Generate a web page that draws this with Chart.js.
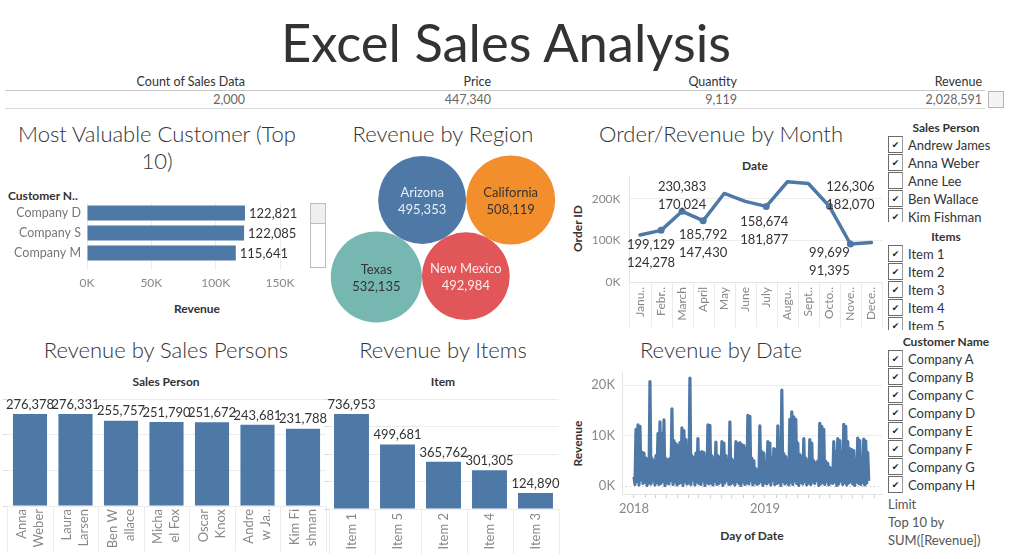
<!DOCTYPE html>
<html><head><meta charset="utf-8">
<script src="https://cdn.jsdelivr.net/npm/chart.js@4.4.1/dist/chart.umd.min.js"></script>
<style>
html,body{margin:0;padding:0;background:#fff}
body{width:1012px;height:559px;position:relative;overflow:hidden;font-family:Lato,"Open Sans",sans-serif;color:#333}
.t{position:absolute;white-space:nowrap}
canvas{position:absolute}
.box{position:absolute;box-sizing:border-box}
</style>
</head><body>
<script>
// ---------------- DATA ----------------
const dashboardTitle = 'Excel Sales Analysis';
const kpiHeaders = ['Count of Sales Data','Price','Quantity','Revenue'];
const kpiValues = ['2,000','447,340','9,119','2,028,591'];

const customers = ['Company D','Company S','Company M'];
const customerRevenue = [122821, 122085, 115641];

const regions = ['Arizona','California','New Mexico','Texas'];
const regionRevenue = [495353, 508119, 492984, 532135];

const monthTickLabels = ['Janu..','Febr..','March','April','May','June','July','Augu..','Sept..','Octo..','Nove..','Dece..'];
const monthOrderId = [113000, 124278, 170024, 147430, 213000, 194000, 181877, 241000, 237000, 182070, 91395, 95000];
const monthRevenue = [null, 199129, 230383, 185792, null, null, 158674, null, null, 126306, 99699, null];

const salesPersonLabels = [['Anna','Weber'],['Laura','Larsen'],['Ben W','allace'],['Micha','el Fox'],['Oscar','Knox'],['Andre','w Ja..'],['Kim Fi','shman']];
const salesRevenue = [276378, 276331, 255757, 251790, 251672, 243681, 231788];

const items = ['Item 1','Item 5','Item 2','Item 4','Item 3'];
const itemRevenue = [736953, 499681, 365762, 301305, 124890];

// Revenue by Date: peaks and troughs read across the plot (Jan 2018 .. Oct 2019)
const dateStart = '2018-01-01';
const dateEnd = '2019-10-17';
const datePeaks = [
 1800,11200,12100,11800,6700,6500,5500,5200,20700,5500,
 5000,6000,10400,12700,10400,13100,5400,5200,5400,15300,
 9000,8400,8000,8600,11500,11000,9200,6000,21400,6000,
 5600,6500,9400,6600,6800,6600,5900,12100,12000,6000,
 5500,8700,6000,5700,8800,8500,6000,5200,12700,5300,
 5000,8800,8400,8600,8200,8000,7500,14000,13800,5500,
 5000,3400,3200,11900,6800,6500,3300,8800,8500,5500,
 7400,7200,11900,6800,19000,6400,5800,5200,13200,14700,
 13700,13200,8500,6200,5800,9400,5500,5000,9200,8500,
 5000,4600,5000,12400,11800,11200,4900,4500,3700,3500,
 8800,6800,9400,9000,6500,12200,11800,8800,7400,7200,
 7000,5400,9500,9000,5400,9300,8900,6600];
const dateLows = [
 300,900,200,1200,500,800,100,600,400,1000,
 200,700,300,500,900,100,600,400,1100,300,
 800,200,500,700,100,900,400,600,300,1200,
 200,800,500,300,1000,100,700,400,600,200,
 900,300,500,800,100,600,1100,300,400,700,
 200,900,500,100,800,300,600,400,1000,200,
 700,300,500,900,100,600,400,800,200,1100,
 300,500,700,100,900,400,600,200,800,300,
 1000,500,100,700,400,900,200,600,300,800,
 500,1100,100,400,700,300,900,200,600,500,
 800,100,400,1000,300,700,200,600,900,400,
 100,800,500,300,700,200,600,1000];
const dateYearLabels = ['2018','2019'];

const filterSalesPersons = ['Andrew James','Anna Weber','Anne Lee','Ben Wallace','Kim Fishman'];
const filterSalesChecked = [true,true,false,true,true];
const filterItems = ['Item 1','Item 2','Item 3','Item 4','Item 5'];
const filterItemsChecked = [true,true,true,true,true];
const filterCustomers = ['Company A','Company B','Company C','Company D','Company E','Company F','Company G','Company H'];
const filterCustomersChecked = [true,true,true,true,true,true,true,true];
const limitLines = ['Limit','Top 10 by','SUM([Revenue])'];

// ---------------- STYLE ----------------
const BLUE = '#4e79a7';
const FONT = 'Lato, "Open Sans", sans-serif';
const bubbleColors = ['#4e79a7','#f28e2b','#e15759','#76b7b2'];
const bubbleTextColors = ['#e9eef5','#333333','#fcecec','#333333'];
const BUBBLE_SCALE = 0.0625;
const monthLabelPlacement = [null,{dx:-10,dy:14},{dx:0,dy:-24.5},{dx:0,dy:14.4},null,null,{dx:-2,dy:15.5},null,null,{dx:21,dy:-19.5},{dx:-21,dy:9},null];

Chart.defaults.font.family = FONT;
Chart.defaults.animation = false;
Chart.defaults.plugins.legend.display = false;
Chart.defaults.plugins.tooltip.enabled = false;
Chart.defaults.color = '#888';

const fmt = v => v.toLocaleString('en-US');
// fix an axis' thickness and drop the automatic label padding
const fitW = w => s => { s.width = w; s.paddingTop = s.paddingBottom = s.paddingLeft = s.paddingRight = 0; };
const fitH = h => s => { s.height = h; s.paddingTop = s.paddingBottom = s.paddingLeft = s.paddingRight = 0; };

// ---------------- HTML helpers ----------------
function txt(s, x, y, o = {}) {
  const d = document.createElement('div');
  d.className = 't';
  d.textContent = s;
  const size = o.size || 12, lh = o.lh || Math.round(size * 1.4);
  const align = o.align || 'center';
  d.style.fontSize = size + 'px';
  d.style.lineHeight = lh + 'px';
  d.style.top = (y - lh / 2) + 'px';
  d.style.color = o.color || '#333';
  d.style.fontWeight = o.weight || 400;
  if (align === 'center') { d.style.left = (x - 250) + 'px'; d.style.width = '500px'; d.style.textAlign = 'center'; }
  else if (align === 'left') { d.style.left = x + 'px'; }
  else { d.style.left = (x - 500) + 'px'; d.style.width = '500px'; d.style.textAlign = 'right'; }
  if (o.rotate) d.style.transform = 'rotate(' + o.rotate + 'deg)';
  document.body.appendChild(d);
  return d;
}
function boxDiv(css) { const d = document.createElement('div'); d.className = 'box'; d.style.cssText += css; document.body.appendChild(d); return d; }
function mkCanvas(left, top, w, h) {
  const c = document.createElement('canvas');
  c.width = w; c.height = h;
  c.style.left = left + 'px'; c.style.top = top + 'px';
  c.style.width = w + 'px'; c.style.height = h + 'px';
  document.body.appendChild(c);
  return c;
}

// ---------------- Title + KPI ----------------
txt(dashboardTitle, 506, 42, {size: 52.5, lh: 62, color: '#333'});
const kpiRight = [245, 491, 737, 982];
kpiHeaders.forEach((h, i) => txt(h, kpiRight[i], 82, {size: 12.5, align: 'right', color: '#333'}));
kpiValues.forEach((v, i) => txt(v, kpiRight[i], 100, {size: 12.5, align: 'right', color: '#666'}));
boxDiv('left:5px;top:90px;width:980px;height:1px;background:#c8c8c8');
boxDiv('left:5px;top:108px;width:980px;height:1px;background:#dcdcdc');
boxDiv('left:988px;top:91px;width:16px;height:17px;border:1px solid #b5b5b5;background:#f4f4f4');

// ---------------- Panel titles & headers ----------------
const PT = {size: 22, lh: 27, weight: 300, color: '#333'};
txt('Most Valuable Customer (Top', 157, 133, PT);
txt('10)', 157, 160, PT);
txt('Revenue by Region', 443, 133, PT);
txt('Order/Revenue by Month', 721, 133, PT);
txt('Revenue by Sales Persons', 166, 349, PT);
txt('Revenue by Items', 443, 349, PT);
txt('Revenue by Date', 721, 349, PT);

const HB = {size: 12, weight: 700, color: '#333'};
txt('Customer N..', 8, 195, Object.assign({align: 'left'}, HB));
txt('Revenue', 197, 308, HB);
txt('Date', 755, 165, HB);
txt('Order ID', 577, 228, Object.assign({rotate: -90}, HB));
txt('Sales Person', 166, 381, HB);
txt('Item', 443, 381, HB);
txt('Revenue', 577, 443, Object.assign({rotate: -90}, HB));
txt('Day of Date', 752, 535, HB);

// scroll box beside customers chart
boxDiv('left:310px;top:203px;width:16px;height:65px;border:1px solid #bdbdbd;background:#fff');
boxDiv('left:310px;top:203px;width:16px;height:21px;border:1px solid #bdbdbd;background:#efefef');

// ---------------- Filters ----------------
function filterList(title, names, checked, headerY, firstY, clipBottom) {
  txt(title, 946, headerY, HB);
  const wrap = document.createElement('div');
  wrap.style.cssText = `position:absolute;left:886px;top:${firstY - 9}px;width:126px;height:${clipBottom - firstY + 9}px;overflow:hidden`;
  names.forEach((n, i) => {
    const row = document.createElement('div');
    row.style.cssText = `position:absolute;left:0;top:${i * 18}px;height:18px;width:126px`;
    const b = document.createElement('div');
    b.style.cssText = 'position:absolute;left:2px;top:0px;width:15px;height:17px;box-sizing:border-box;border:1px solid #6b6b6b;border-right-color:#9a9a9a;background:#fff;font-size:9px;line-height:16px;text-align:center;color:#222;font-family:"DejaVu Sans",sans-serif';
    b.textContent = checked[i] ? '\u2714' : '';
    const l = document.createElement('div');
    l.style.cssText = 'position:absolute;left:22px;top:0;line-height:18px;font-size:13px;color:#333;white-space:nowrap';
    l.textContent = n;
    row.appendChild(b); row.appendChild(l); wrap.appendChild(row);
  });
  document.body.appendChild(wrap);
}
filterList('Sales Person', filterSalesPersons, filterSalesChecked, 127, 145, 222);
filterList('Items', filterItems, filterItemsChecked, 236, 254, 330);
filterList('Customer Name', filterCustomers, filterCustomersChecked, 341, 359, 493);
limitLines.forEach((s, i) => txt(s, 888, 504 + i * 18, {size: 13, align: 'left', color: '#555'}));

// ---------------- Plugins ----------------
const barEndLabels = {
  id: 'barEndLabels',
  afterDatasetsDraw(chart) {
    const ctx = chart.ctx, meta = chart.getDatasetMeta(0), vals = chart.data.datasets[0].data;
    ctx.save(); ctx.font = '13px ' + FONT; ctx.fillStyle = '#333';
    meta.data.forEach((el, i) => {
      if (chart.options.indexAxis === 'y') { ctx.textAlign = 'left'; ctx.textBaseline = 'middle'; ctx.fillText(fmt(vals[i]), el.x + 4, el.y + 1); }
      else { ctx.textAlign = 'center'; ctx.textBaseline = 'bottom'; ctx.fillText(fmt(vals[i]), el.x, el.y - 3); }
    });
    ctx.restore();
  }
};
const separators = {
  id: 'separators',
  afterDraw(chart, args, opts) {
    const x = chart.scales.x, ca = chart.chartArea, ctx = chart.ctx, n = chart.data.labels.length;
    const step = n > 1 ? x.getPixelForValue(1) - x.getPixelForValue(0) : 0;
    ctx.save(); ctx.strokeStyle = '#ebebeb'; ctx.lineWidth = 1;
    for (let i = 0; i <= n; i++) {
      const px = Math.round(x.getPixelForValue(0) + (i - 0.5) * step) + 0.5;
      ctx.beginPath(); ctx.moveTo(px, ca.bottom); ctx.lineTo(px, ca.bottom + 45); ctx.stroke();
    }
    ctx.restore();
  }
};
const monthLabels = {
  id: 'monthLabels',
  afterDatasetsDraw(chart) {
    const ctx = chart.ctx, meta = chart.getDatasetMeta(0);
    ctx.save(); ctx.font = '13px ' + FONT; ctx.fillStyle = '#333'; ctx.textAlign = 'center'; ctx.textBaseline = 'middle';
    monthRevenue.forEach((rev, i) => {
      const pl = monthLabelPlacement[i];
      if (rev == null || !pl) return;
      const p = meta.data[i];
      ctx.fillText(fmt(rev), p.x + pl.dx, p.y + pl.dy);
      ctx.fillText(fmt(monthOrderId[i]), p.x + pl.dx, p.y + pl.dy + 18);
    });
    ctx.restore();
  }
};
const bubbleLabels = {
  id: 'bubbleLabels',
  afterDatasetsDraw(chart) {
    const ctx = chart.ctx, meta = chart.getDatasetMeta(0);
    ctx.save(); ctx.font = '13px ' + FONT; ctx.textAlign = 'center'; ctx.textBaseline = 'middle';
    meta.data.forEach((el, i) => {
      ctx.fillStyle = bubbleTextColors[i];
      ctx.fillText(regions[i], el.x, el.y - 7);
      ctx.fillText(fmt(regionRevenue[i]), el.x, el.y + 10);
    });
    ctx.restore();
  }
};
const zeroDotted = {
  id: 'zeroDotted',
  beforeDatasetsDraw(chart) {
    const ctx = chart.ctx, ca = chart.chartArea, y = Math.round(chart.scales.y.getPixelForValue(0)) + 0.5;
    ctx.save(); ctx.strokeStyle = '#b8b8b8'; ctx.lineWidth = 1; ctx.setLineDash([1, 3]);
    ctx.beginPath(); ctx.moveTo(ca.left, y); ctx.lineTo(ca.right, y); ctx.stroke(); ctx.restore();
  }
};

// ---------------- Chart 1: Most valuable customers ----------------
new Chart(mkCanvas(0, 195, 300, 100), {
  type: 'bar',
  data: {labels: customers, datasets: [{data: customerRevenue, backgroundColor: BLUE, barPercentage: 0.75, categoryPercentage: 1}]},
  options: {
    indexAxis: 'y', responsive: false, devicePixelRatio: 1,
    layout: {autoPadding: false, padding: {top: 8, right: 20, left: 0, bottom: 0}},
    scales: {
      x: {min: 0, max: 150000, ticks: {stepSize: 50000, callback: v => (v / 1000) + 'K', color: '#888', font: {size: 12}, padding: 6},
          grid: {color: '#ececec', tickLength: 7, tickColor: '#ececec'}, border: {display: false},
          afterFit: fitH(32)},
      y: {ticks: {color: '#777', font: {size: 12.5}, padding: 6}, grid: {display: false, drawTicks: false}, border: {display: false},
          afterFit: fitW(87)}
    }
  },
  plugins: [barEndLabels]
});

// ---------------- Chart 2: Revenue by Region (packed bubbles) ----------------
function tangentPoints(a, b, r) {
  const da = a.r + r, db = b.r + r, dx = b.x - a.x, dy = b.y - a.y, d = Math.hypot(dx, dy);
  const l = (da * da - db * db + d * d) / (2 * d), h = Math.sqrt(Math.max(0, da * da - l * l));
  const ux = dx / d, uy = dy / d;
  return [{x: a.x + l * ux - h * uy, y: a.y + l * uy + h * ux}, {x: a.x + l * ux + h * uy, y: a.y + l * uy - h * ux}];
}
const circles = regionRevenue.map(v => ({r: BUBBLE_SCALE * Math.sqrt(v), x: 0, y: 0}));
circles[1].x = circles[0].r + circles[1].r;
{
  let c = tangentPoints(circles[0], circles[1], circles[2].r).sort((p, q) => q.y - p.y)[0];
  circles[2].x = c.x; circles[2].y = c.y;
  c = tangentPoints(circles[0], circles[2], circles[3].r).sort((p, q) => p.x - q.x)[0];
  circles[3].x = c.x; circles[3].y = c.y;
}
const bx0 = Math.min(...circles.map(c => c.x - c.r)), bx1 = Math.max(...circles.map(c => c.x + c.r));
const by0 = Math.min(...circles.map(c => c.y - c.r)), by1 = Math.max(...circles.map(c => c.y + c.r));
const bcx = (bx0 + bx1) / 2, bcy = (by0 + by1) / 2;
const BW = 236, BH = 178;
new Chart(mkCanvas(325, 150, BW, BH), {
  type: 'bubble',
  data: {datasets: [{data: circles.map(c => ({x: c.x - bcx, y: -(c.y - bcy), r: c.r})), backgroundColor: bubbleColors, borderWidth: 0, hoverRadius: 0, clip: false}]},
  options: {
    responsive: false, devicePixelRatio: 1, layout: {autoPadding: false, padding: 0},
    scales: {x: {display: false, min: -BW / 2, max: BW / 2}, y: {display: false, min: -BH / 2, max: BH / 2}}
  },
  plugins: [bubbleLabels]
});

// ---------------- Chart 3: Order/Revenue by Month ----------------
new Chart(mkCanvas(570, 170, 315, 160), {
  type: 'line',
  data: {labels: monthTickLabels, datasets: [{data: monthOrderId, borderColor: BLUE, borderWidth: 3.5, borderJoinStyle: 'round', borderCapStyle: 'round',
    pointRadius: monthRevenue.map(v => v == null ? 0 : 3.5), pointBackgroundColor: BLUE, pointBorderWidth: 0, tension: 0}]},
  options: {
    responsive: false, devicePixelRatio: 1, layout: {autoPadding: false, padding: {top: 6, right: 3}},
    scales: {
      x: {offset: true, grid: {display: false, drawTicks: false}, border: {color: '#e4e4e4'},
          ticks: {minRotation: 90, maxRotation: 90, autoSkip: false, padding: 5, color: '#888', font: {size: 12}},
          afterFit: fitH(48)},
      y: {min: 0, max: 255000, afterBuildTicks: s => { s.ticks = [0, 100000, 200000].map(v => ({value: v})); },
          ticks: {callback: v => (v / 1000) + 'K', padding: 9, color: '#888', font: {size: 12}},
          grid: {color: c => c.tick && c.tick.value === 0 ? 'rgba(0,0,0,0)' : '#ececec', drawTicks: false}, border: {color: '#e4e4e4'},
          afterFit: fitW(59.5)}
    }
  },
  plugins: [monthLabels, separators]
});

// ---------------- Chart 4: Revenue by Sales Persons ----------------
new Chart(mkCanvas(0, 390, 330, 165), {
  type: 'bar',
  data: {labels: salesPersonLabels, datasets: [{data: salesRevenue, backgroundColor: BLUE, barPercentage: 0.75, categoryPercentage: 1}]},
  options: {
    responsive: false, devicePixelRatio: 1, layout: {autoPadding: false, padding: {top: 9.4, right: 4.25}},
    scales: {
      x: {grid: {display: false, drawTicks: false}, border: {display: false},
          ticks: {minRotation: 90, maxRotation: 90, autoSkip: false, padding: 3, labelOffset: -8.5, color: '#888', font: {size: 13, lineHeight: 1.3}},
          afterFit: fitH(49)},
      y: {min: 0, max: 320000, ticks: {display: false, stepSize: 100000}, grid: {color: '#ececec', tickLength: 4, tickColor: '#d8d8d8'},
          border: {display: false}, afterFit: fitW(7.25)}
    }
  },
  plugins: [barEndLabels, separators]
});

// ---------------- Chart 5: Revenue by Items ----------------
new Chart(mkCanvas(322, 390, 243, 165), {
  type: 'bar',
  data: {labels: items, datasets: [{data: itemRevenue, backgroundColor: BLUE, barPercentage: 0.76, categoryPercentage: 1}]},
  options: {
    responsive: false, devicePixelRatio: 1, layout: {autoPadding: false, padding: {top: 9.4, right: 6.5}},
    scales: {
      x: {grid: {display: false, drawTicks: false}, border: {display: false},
          ticks: {minRotation: 90, maxRotation: 90, autoSkip: false, padding: 4, color: '#888', font: {size: 13}},
          afterFit: fitH(46)},
      y: {min: 0, max: 850000, ticks: {display: false, stepSize: 200000}, grid: {color: '#ececec', tickLength: 4, tickColor: '#d8d8d8'},
          border: {display: false}, afterFit: fitW(6.5)}
    }
  },
  plugins: [barEndLabels, separators]
});

// ---------------- Chart 6: Revenue by Date ----------------
const DAY = 864e5;
const d0 = Date.parse(dateStart + 'T00:00:00Z'), d1 = Date.parse(dateEnd + 'T00:00:00Z');
const dailyRevenue = datePeaks.flatMap((p, i) => [p, dateLows[i]]);
const dayStep = ((d1 - d0) / DAY) / (dailyRevenue.length - 1);
const monthStarts = [];
for (let m = 0; m <= 22; m++) monthStarts.push((Date.UTC(2018, m, 1) - d0) / DAY);
const yearStarts = [0, (Date.UTC(2019, 0, 1) - d0) / DAY];
new Chart(mkCanvas(570, 365, 315, 185), {
  type: 'line',
  data: {datasets: [{data: dailyRevenue.map((v, i) => ({x: i * dayStep, y: v})), borderColor: BLUE, borderWidth: 3.2, pointRadius: 0, tension: 0, borderJoinStyle: 'round'}]},
  options: {
    responsive: false, devicePixelRatio: 1, layout: {autoPadding: false, padding: {top: 7, right: 3}},
    scales: {
      x: {type: 'linear', min: -33.4, max: 691,
          afterBuildTicks: s => { s.ticks = monthStarts.map(v => ({value: v})); },
          ticks: {autoSkip: false, maxRotation: 0, padding: 3, color: '#888', font: {size: 13},
                  callback: v => { const k = yearStarts.indexOf(v); return k >= 0 ? dateYearLabels[k] : ''; }},
          grid: {drawOnChartArea: false, tickLength: 4, tickColor: '#cfcfcf'}, border: {color: '#e4e4e4'},
          afterFit: fitH(56)},
      y: {min: -1600, max: 22600, afterBuildTicks: s => { s.ticks = [0, 10000, 20000].map(v => ({value: v})); },
          ticks: {callback: v => (v / 1000) + 'K', padding: 7, color: '#888', font: {size: 13}},
          grid: {color: c => c.tick && c.tick.value === 0 ? 'rgba(0,0,0,0)' : '#ececec', drawTicks: false}, border: {color: '#e4e4e4'},
          afterFit: fitW(52)}
    }
  },
  plugins: [zeroDotted]
});
</script>
</body></html>
